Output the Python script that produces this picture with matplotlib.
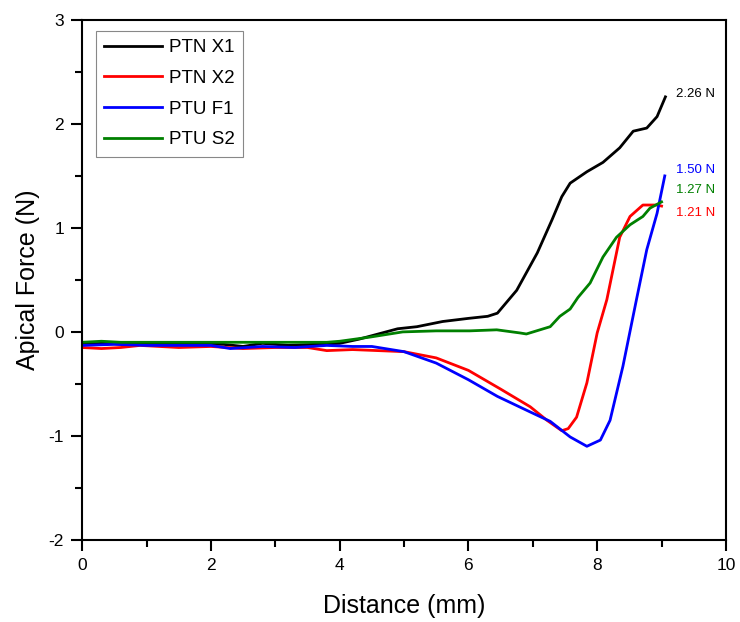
import matplotlib.pyplot as plt

plt.rcParams['font.family'] = ['Liberation Sans', 'DejaVu Sans']
plt.rcParams['axes.unicode_minus'] = False

# PTN X1
x1 = [0, 0.3, 0.8, 1.5, 2.2, 2.5, 2.8, 3.2, 3.6, 4.0, 4.3, 4.6, 4.9, 5.2, 5.6, 6.0,
      6.3, 6.45, 6.75, 7.07, 7.3, 7.45, 7.58, 7.84, 8.09, 8.35, 8.56, 8.77, 8.93, 9.06]
y1 = [-0.12, -0.11, -0.12, -0.12, -0.12, -0.14, -0.11, -0.13, -0.12, -0.11, -0.07, -0.02,
      0.03, 0.05, 0.10, 0.13, 0.15, 0.18, 0.40, 0.76, 1.08, 1.30, 1.43, 1.54, 1.63, 1.77,
      1.93, 1.96, 2.07, 2.26]
# PTN X2
x2 = [0, 0.3, 0.6, 0.9, 1.5, 2.0, 2.5, 3.0, 3.5, 3.8, 4.2, 4.6, 5.0, 5.5, 6.0, 6.5,
      6.96, 7.22, 7.45, 7.55, 7.68, 7.84, 8.0, 8.15, 8.35, 8.51, 8.71, 8.93, 9.0]
y2 = [-0.15, -0.16, -0.15, -0.13, -0.15, -0.14, -0.16, -0.15, -0.15, -0.18, -0.17, -0.18,
      -0.19, -0.25, -0.37, -0.55, -0.72, -0.85, -0.95, -0.93, -0.82, -0.49, -0.01, 0.31,
      0.91, 1.11, 1.22, 1.22, 1.21]
# PTU F1
x3 = [0, 0.5, 1.0, 1.5, 2.0, 2.3, 2.8, 3.3, 3.8, 4.2, 4.5, 5.0, 5.5, 6.0, 6.45, 6.96,
      7.27, 7.58, 7.84, 8.05, 8.2, 8.4, 8.61, 8.77, 8.93, 9.05]
y3 = [-0.13, -0.12, -0.13, -0.13, -0.13, -0.16, -0.14, -0.15, -0.13, -0.14, -0.14, -0.19,
      -0.30, -0.46, -0.62, -0.77, -0.86, -1.01, -1.10, -1.04, -0.85, -0.33, 0.31, 0.79,
      1.14, 1.50]
# PTU S2
x4 = [0, 0.3, 0.6, 1.0, 2.0, 3.0, 3.8, 4.0, 4.47, 4.98, 5.5, 6.02, 6.44, 6.8, 6.9, 7.27,
      7.42, 7.58, 7.7, 7.89, 8.09, 8.3, 8.51, 8.71, 8.82, 9.0]
y4 = [-0.10, -0.09, -0.10, -0.10, -0.10, -0.10, -0.10, -0.09, -0.05, 0.0, 0.01, 0.01,
      0.02, -0.01, -0.02, 0.05, 0.15, 0.22, 0.33, 0.47, 0.72, 0.91, 1.03, 1.11, 1.19, 1.25]

labels = ['PTN X1', 'PTN X2', 'PTU F1', 'PTU S2']
colors = ['black', 'red', 'blue', 'green']
peak_text = ['2.26 N', '1.50 N', '1.27 N', '1.21 N']
peak_y = [2.29, 1.56, 1.36, 1.14]
peak_colors = ['black', 'blue', 'green', 'red']

fig = plt.figure(figsize=(7.4, 6.22), dpi=100)
ax = fig.add_axes([0.111, 0.132, 0.870, 0.836])

for xs, ys, lab, c in zip([x1, x2, x3, x4], [y1, y2, y3, y4], labels, colors):
    ax.plot(xs, ys, color=c, lw=2, label=lab)

for t, yy, c in zip(peak_text, peak_y, peak_colors):
    ax.text(9.22, yy, t, color=c, fontsize=9.5, va='center', ha='left')

ax.set_xlim(0, 10)
ax.set_ylim(-2, 3)
ax.set_xticks([0, 2, 4, 6, 8, 10])
ax.set_xticks([1, 3, 5, 7, 9], minor=True)
ax.set_yticks([-2, -1, 0, 1, 2, 3])
ax.set_yticks([-1.5, -0.5, 0.5, 1.5, 2.5], minor=True)
ax.tick_params(which='both', direction='out', width=1.5, labelsize=12.5, pad=5)
ax.tick_params(which='major', length=8)
ax.tick_params(which='minor', length=5)
for s in ax.spines.values():
    s.set_linewidth(1.5)

ax.set_xlabel('Distance (mm)', fontsize=18, labelpad=15)
ax.set_ylabel('Apical Force (N)', fontsize=18, labelpad=6)

leg = ax.legend(loc='upper left', fontsize=13.5, handlelength=3.1, handletextpad=0.35,
                labelspacing=0.72, borderpad=0.45, borderaxespad=0, fancybox=False,
                framealpha=1, edgecolor='#888888', bbox_to_anchor=(0.021, 0.979))
leg.get_frame().set_linewidth(0.8)

fig.savefig('out.png')
